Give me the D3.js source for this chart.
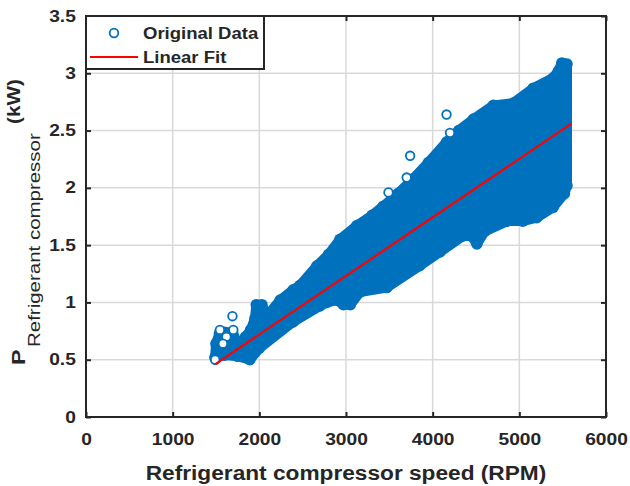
<!DOCTYPE html>
<html>
<head>
<meta charset="utf-8">
<script src="https://cdn.jsdelivr.net/npm/d3@7"></script>
<style>
  body { margin: 0; background: #fff; }
  text { font-family: "Liberation Sans", Arial, sans-serif; fill: #262626; }
</style>
</head>
<body>
<script>
var W = 630, H = 486;
var margin = { top: 16, right: 24, bottom: 69, left: 86 };
var width = W - margin.left - margin.right;
var height = H - margin.top - margin.bottom;

// upper edge of the dense point cloud (marker centres)
var upperSpeed = [1490, 1500, 1540, 1600, 1690, 1740, 1780, 1840, 1900, 1950, 1965, 2030, 2060, 2120, 2240, 2390, 2470,
    2665, 2800, 2930, 3125, 3300, 3430, 3600, 3775, 3950, 4160, 4300, 4470, 4700, 4930, 5160, 5390, 5450, 5490, 5550];
var upperPower = [0.52, 0.64, 0.73, 0.74, 0.74, 0.66, 0.63, 0.70, 0.76, 0.86, 0.98, 0.98, 0.92, 0.91, 1.02, 1.11, 1.15,
    1.32, 1.42, 1.55, 1.67, 1.76, 1.84, 1.95, 2.08, 2.22, 2.40, 2.50, 2.60, 2.72, 2.74, 2.87, 2.96, 3.02, 3.09, 3.08];

// lower edge of the cloud
var lowerSpeed = [1490, 1600, 1750, 1890, 2000, 2390, 2700, 2780, 2900, 2970, 3050, 3160, 3470, 3850, 4085, 4350,
    4450, 4510, 4600, 4860, 5040, 5200, 5390, 5520, 5550];
var lowerPower = [0.52, 0.54, 0.53, 0.50, 0.60, 0.83, 0.97, 1.00, 1.02, 0.98, 0.98, 1.09, 1.13, 1.32, 1.44, 1.58,
    1.58, 1.51, 1.62, 1.71, 1.71, 1.74, 1.83, 1.95, 2.02];

// isolated points that show as open rings
var ringSpeed = [3490, 3700, 3740, 4160, 4200, 1690, 1545, 1700, 1490, 1620, 1580];
var ringPower = [1.96, 2.09, 2.28, 2.64, 2.48, 0.88, 0.76, 0.76, 0.50, 0.70, 0.64];

// linear fit
var fitSpeed = [1490, 5600];
var fitPower = [0.46, 2.56];

var xTicks = [0, 1000, 2000, 3000, 4000, 5000, 6000];
var yTicks = [0, 0.5, 1, 1.5, 2, 2.5, 3, 3.5];
var yTickLabels = ['0', '0.5', '1', '1.5', '2', '2.5', '3', '3.5'];

var blue = '#0072BD';
var red = '#ff0000';
var dark = '#262626';

var svg = d3.select('body').append('svg')
    .attr('width', W)
    .attr('height', H);

var g = svg.append('g')
    .attr('transform', `translate(${margin.left}, ${margin.top})`);

var x = d3.scaleLinear().domain([0, 6000]).range([0, width]);
var y = d3.scaleLinear().domain([0, 3.5]).range([height, 0]);

// grid
g.append('g').selectAll('line').data(xTicks.slice(1, -1)).enter().append('line')
    .attr('x1', function(d) { return x(d); }).attr('x2', function(d) { return x(d); })
    .attr('y1', 0).attr('y2', height)
    .attr('stroke', '#d9d9d9').attr('stroke-width', 1.5);
g.append('g').selectAll('line').data(yTicks.slice(1, -1)).enter().append('line')
    .attr('y1', function(d) { return y(d); }).attr('y2', function(d) { return y(d); })
    .attr('x1', 0).attr('x2', width)
    .attr('stroke', '#d9d9d9').attr('stroke-width', 1.5);

// point cloud
var cloud = upperSpeed.map(function(s, i) { return [s, upperPower[i]]; });
for (var i = lowerSpeed.length - 1; i >= 0; i--) cloud.push([lowerSpeed[i], lowerPower[i]]);

g.append('path')
    .datum(cloud)
    .attr('d', d3.line().x(function(d) { return x(d[0]); }).y(function(d) { return y(d[1]); }).curve(d3.curveLinearClosed))
    .attr('fill', blue)
    .attr('stroke', blue)
    .attr('stroke-width', 10)
    .attr('stroke-linejoin', 'round');

// markers on the cloud edge give it the bumpy outline
g.append('g').selectAll('circle').data(cloud).enter().append('circle')
    .attr('cx', function(d) { return x(d[0]); })
    .attr('cy', function(d) { return y(d[1]); })
    .attr('r', 5.8)
    .attr('fill', blue);

g.append('g').selectAll('circle').data(ringSpeed).enter().append('circle')
    .attr('cx', function(d) { return x(d); })
    .attr('cy', function(d, i) { return y(ringPower[i]); })
    .attr('r', 4.3)
    .attr('fill', '#fff')
    .attr('stroke', blue)
    .attr('stroke-width', 1.8);

g.append('path')
    .datum(fitSpeed.map(function(s, i) { return [s, fitPower[i]]; }))
    .attr('d', d3.line().x(function(d) { return x(d[0]); }).y(function(d) { return y(d[1]); }))
    .attr('fill', 'none')
    .attr('stroke', red)
    .attr('stroke-width', 2.2);

// axes
var xAxis = g.append('g')
    .attr('transform', `translate(0, ${height})`)
    .call(d3.axisBottom(x).tickValues(xTicks).tickSize(-5).tickPadding(17).tickFormat(d3.format('d')));
var yAxis = g.append('g')
    .call(d3.axisLeft(y).tickValues(yTicks).tickSize(-5).tickPadding(8.5).tickFormat(function(d, i) { return yTickLabels[i]; }));
g.append('g').call(d3.axisTop(x).tickValues(xTicks).tickSize(-5).tickFormat(''));
g.append('g').attr('transform', `translate(${width}, 0)`)
    .call(d3.axisRight(y).tickValues(yTicks).tickSize(-5).tickFormat(''));

g.selectAll('.domain').remove();
g.selectAll('.tick line').attr('stroke', dark).attr('stroke-width', 2);
g.selectAll('.tick text')
    .style('font-size', '16px')
    .style('font-weight', 700)
    .attr('fill', dark)
    .attr('transform', 'scale(1.2,1)');

g.append('rect')
    .attr('width', width).attr('height', height)
    .attr('fill', 'none').attr('stroke', dark).attr('stroke-width', 2);

// axis labels
svg.append('text')
    .attr('transform', `translate(${margin.left + width / 2}, 480) scale(1.08,1)`)
    .attr('text-anchor', 'middle')
    .style('font-size', '21px').style('font-weight', 700)
    .text('Refrigerant compressor speed (RPM)');

svg.append('text')
    .attr('transform', 'translate(25, 365) rotate(-90) scale(1.3,1)')
    .style('font-size', '18px').style('font-weight', 700)
    .text('P');
svg.append('text')
    .attr('transform', 'translate(40, 347) rotate(-90) scale(1.28,1)')
    .style('font-size', '16px')
    .text('Refrigerant compressor');
svg.append('text')
    .attr('transform', 'translate(20, 124) rotate(-90) scale(1.15,1)')
    .style('font-size', '18px').style('font-weight', 700)
    .text('(kW)');

// legend
var legend = g.append('g');
legend.append('rect')
    .attr('width', 178).attr('height', 53)
    .attr('fill', '#fff').attr('stroke', dark).attr('stroke-width', 2);
legend.append('circle')
    .attr('cx', 28).attr('cy', 17).attr('r', 4.3)
    .attr('fill', '#fff').attr('stroke', blue).attr('stroke-width', 1.8);
legend.append('line')
    .attr('x1', 4).attr('x2', 52).attr('y1', 41).attr('y2', 41)
    .attr('stroke', red).attr('stroke-width', 2.2);
legend.append('text')
    .attr('transform', 'translate(57, 23) scale(1.09,1)')
    .style('font-size', '17px').style('font-weight', 700)
    .text('Original Data');
legend.append('text')
    .attr('transform', 'translate(57, 47) scale(1.09,1)')
    .style('font-size', '17px').style('font-weight', 700)
    .text('Linear Fit');
</script>
</body>
</html>
